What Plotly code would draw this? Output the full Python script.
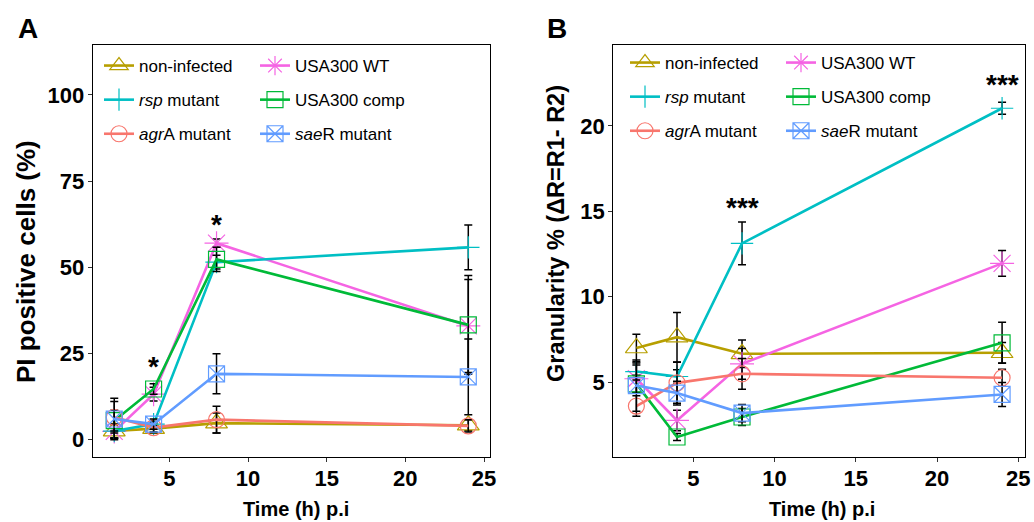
import plotly.graph_objects as go

# ---------------- data ----------------
time_h = [1.5, 4, 8, 24]

series_names = ["non-infected", "USA300 WT", "<i>rsp</i> mutant", "USA300 comp",
                "<i>agr</i>A mutant", "<i>sae</i>R mutant"]

# Panel A: PI positive cells (%)
pi_noninf = [2.5, 3.2, 4.8, 4.2]
pi_noninf_sd = [2.0, 1.0, 2.9, 1.6]
pi_wt = [2.4, 13.2, 57.0, 33.0]
pi_wt_sd = [2.0, 2.0, 1.2, 13.5]
pi_rsp = [2.5, 4.5, 51.5, 55.8]
pi_rsp_sd = [2.0, 1.0, 2.0, 6.5]
pi_comp = [5.5, 14.7, 52.3, 33.3]
pi_comp_sd = [3.0, 1.5, 3.5, 14.3]
pi_agr = [6.5, 3.5, 5.8, 4.0]
pi_agr_sd = [4.6, 1.5, 3.9, 1.8]
pi_sae = [6.0, 4.5, 19.1, 18.2]
pi_sae_sd = [6.0, 1.5, 5.8, 11.0]

# Panel B: Granularity %
gr_noninf = [7.0, 7.63, 6.66, 6.72]
gr_noninf_sd = [0.8, 1.45, 0.8, 0.6]
gr_wt = [5.2, 2.76, 6.07, 11.95]
gr_wt_sd = [0.8, 0.6, 0.9, 0.75]
gr_rsp = [5.62, 5.33, 13.12, 21.03]
gr_rsp_sd = [0.5, 0.4, 1.25, 0.35]
gr_comp = [4.9, 1.79, 2.96, 7.3]
gr_comp_sd = [0.5, 0.2, 0.5, 1.2]
gr_agr = [3.6, 4.96, 5.49, 5.26]
gr_agr_sd = [0.6, 1.2, 0.9, 0.5]
gr_sae = [4.8, 4.36, 3.19, 4.28]
gr_sae_sd = [1.5, 0.7, 0.5, 0.7]

x_ticks = [5, 10, 15, 20, 25]
a_ticks = [0, 25, 50, 75, 100]
b_ticks = [5, 10, 15, 20]

sig_a_x = [4, 8]
sig_a_y = [22.8, 64.0]
sig_a_txt = ["*", "*"]
sig_b_x = [8, 24]
sig_b_y = [15.3, 22.5]
sig_b_txt = ["***", "***"]

# ---------------- styles ----------------
colors = ["#B79F00", "#F564E3", "#00BFC4", "#00BA38", "#F8766D", "#619CFF"]
symbols = ["triangle-up-open", "asterisk-open", "cross-thin-open", "square-open",
           "circle-open", "square-x-open"]
sizes = [19, 20, 16, 16, 16, 16]

panel_a = [(pi_noninf, pi_noninf_sd), (pi_wt, pi_wt_sd), (pi_rsp, pi_rsp_sd),
           (pi_comp, pi_comp_sd), (pi_agr, pi_agr_sd), (pi_sae, pi_sae_sd)]
panel_b = [(gr_noninf, gr_noninf_sd), (gr_wt, gr_wt_sd), (gr_rsp, gr_rsp_sd),
           (gr_comp, gr_comp_sd), (gr_agr, gr_agr_sd), (gr_sae, gr_sae_sd)]

FONT = "Liberation Sans, Arial, Helvetica, sans-serif"
fig = go.Figure()

def add_panel(data, xa, ya, legends, grp):
    for i, (vals, sd) in enumerate(data):
        leg = legends[i % 2]
        fig.add_trace(go.Scatter(
            x=time_h, y=vals, name=series_names[i], mode="lines+markers",
            xaxis=xa, yaxis=ya, legend=leg, legendgroup=f"{grp}{i}",
            line=dict(color=colors[i], width=2.6),
            marker=dict(symbol=symbols[i], size=sizes[i], color=colors[i],
                        line=dict(color=colors[i], width=1.2)),
            error_y=dict(type="data", array=sd, visible=True, color="black",
                         thickness=1.5, width=4),
        ))

add_panel(panel_a, "x", "y", ["legend", "legend2"], "a")
add_panel(panel_b, "x2", "y2", ["legend3", "legend4"], "b")

W, H = 1034, 522
def px_x(p):
    return p / W
def px_y(p):
    return 1 - p / H

axis_common = dict(showgrid=False, zeroline=False, showline=True, mirror=True,
                   linecolor="black", linewidth=1.3, ticks="outside", ticklen=4,
                   tickwidth=1.2, tickcolor="#333333",
                   tickfont=dict(family=FONT, size=22, color="black", weight="bold"))

ydom = [px_y(457), px_y(45)]
fig.update_layout(
    width=W, height=H, plot_bgcolor="white", paper_bgcolor="white",
    margin=dict(l=0, r=0, t=0, b=0), showlegend=True,
    font=dict(family=FONT, color="black"),
    xaxis=dict(domain=[px_x(92.7), px_x(490)], range=[0.13, 25.38], tickvals=x_ticks,
               anchor="y", automargin=False, ticklabelstandoff=-3, **axis_common),
    yaxis=dict(domain=ydom, range=[-5.03, 114.5], tickvals=a_ticks, anchor="x",
               automargin=False, ticklabelstandoff=-1, **axis_common),
    xaxis2=dict(domain=[px_x(613.3), px_x(1025)], range=[0.08, 25.41], tickvals=x_ticks,
                anchor="y2", automargin=False, ticklabelstandoff=-3, **axis_common),
    yaxis2=dict(domain=ydom, range=[0.62, 24.73], tickvals=b_ticks, anchor="x2",
                automargin=False, ticklabelstandoff=-1, **axis_common),
)

leg_common = dict(bgcolor="rgba(0,0,0,0)", borderwidth=0, orientation="v",
                  xanchor="left", yanchor="top", tracegroupgap=9,
                  font=dict(family=FONT, size=17, color="black"))
fig.update_layout(
    legend=dict(x=px_x(99), y=px_y(48), **leg_common),
    legend2=dict(x=px_x(255), y=px_y(48), **leg_common),
    legend3=dict(x=px_x(625), y=px_y(45), **leg_common),
    legend4=dict(x=px_x(781), y=px_y(45), **leg_common),
)

ann = []
for xv, yv, t in zip(sig_a_x, sig_a_y, sig_a_txt):
    ann.append(dict(x=xv, y=yv, xref="x", yref="y", text=t, showarrow=False,
                    font=dict(size=28, family=FONT, color="black", weight="bold"), yshift=-5))
for xv, yv, t in zip(sig_b_x, sig_b_y, sig_b_txt):
    ann.append(dict(x=xv, y=yv, xref="x2", yref="y2", text=t, showarrow=False,
                    font=dict(size=28, family=FONT, color="black", weight="bold"), yshift=-1))
# axis titles and panel letters
txt = dict(xref="paper", yref="paper", showarrow=False, xanchor="center", yanchor="middle")
ann.append(dict(x=px_x(26), y=px_y(262), textangle=-90,
                text="<b>PI positive cells (%)</b>",
                font=dict(size=26, family=FONT, color="black"), **txt))
ann.append(dict(x=px_x(556), y=px_y(234), textangle=-90,
                text="<b>Granularity % (ΔR=R1- R2)</b>",
                font=dict(size=23.5, family=FONT, color="black"), **txt))
ann.append(dict(x=px_x(296), y=px_y(509), text="<b>Time (h) p.i</b>",
                font=dict(size=20, family=FONT, color="black"), **txt))
ann.append(dict(x=px_x(822), y=px_y(509), text="<b>Time (h) p.i</b>",
                font=dict(size=20, family=FONT, color="black"), **txt))
ann.append(dict(x=px_x(27.5), y=px_y(28), text="<b>A</b>",
                font=dict(size=28, family=FONT, color="black"), **txt))
ann.append(dict(x=px_x(556.7), y=px_y(28), text="<b>B</b>",
                font=dict(size=28, family=FONT, color="black"), **txt))
fig.update_layout(annotations=ann)

fig.write_html("out.html", config={"displayModeBar": False},
               post_script="document.body.style.margin='0';document.body.style.padding='0';")
